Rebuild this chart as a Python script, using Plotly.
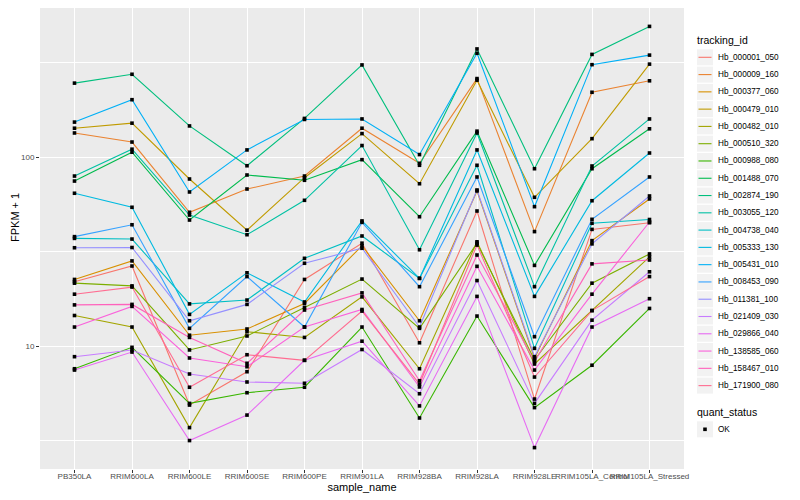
import plotly.graph_objects as go

samples = ["PB350LA", "RRIM600LA", "RRIM600LE", "RRIM600SE", "RRIM600PE", "RRIM901LA",
           "RRIM928BA", "RRIM928LA", "RRIM928LE", "RRIM105LA_Control", "RRIM105LA_Stressed"]

hb_000001_050 = [21.9, 26.5, 4.87, 7.31, 22.5, 35.0, 10.4, 51.8, 5.24, 41.4, 44.9]
hb_000009_160 = [134, 120, 51.0, 67.7, 79.3, 142, 92.6, 260, 40.3, 220, 253]
hb_000377_060 = [22.5, 28.2, 11.4, 12.3, 16.8, 33.9, 13.6, 66.1, 8.61, 36.1, 60.0]
hb_000479_010 = [142, 151, 76.5, 41.0, 77.7, 133, 72.2, 255, 61.2, 125, 310]
hb_000482_010 = [14.5, 12.6, 3.70, 11.9, 11.1, 18.2, 7.58, 35.6, 8.03, 15.4, 29.6]
hb_000510_320 = [21.5, 20.8, 9.53, 11.3, 16.0, 22.6, 12.4, 35.0, 8.43, 21.5, 30.7]
hb_000988_080 = [7.58, 9.84, 4.97, 5.66, 6.05, 12.6, 4.16, 14.4, 4.72, 7.91, 15.8]
hb_001488_070 = [74.6, 106, 46.4, 80.3, 75.3, 96.8, 48.3, 137, 26.7, 86.7, 141]
hb_002874_190 = [246, 274, 146, 89.9, 160, 307, 90.4, 373, 86.7, 349, 491]
hb_003055_120 = [79.3, 110, 49.3, 38.8, 59.0, 115, 32.3, 134, 20.6, 89.6, 159]
hb_004738_040 = [37.1, 36.8, 16.7, 17.5, 29.1, 38.2, 22.8, 90.4, 9.72, 44.6, 46.7]
hb_005333_130 = [64.3, 54.2, 14.7, 24.4, 17.1, 45.9, 22.8, 109, 18.3, 58.7, 105]
hb_005431_010 = [153, 201, 65.3, 109, 158, 159, 103, 354, 54.6, 308, 346]
hb_008453_090 = [37.9, 43.8, 12.4, 23.3, 12.6, 45.1, 20.6, 78.4, 11.2, 46.8, 78.4]
hb_011381_100 = [33.1, 33.2, 13.6, 16.6, 27.4, 32.9, 12.6, 66.9, 8.78, 34.7, 62.2]
hb_021409_030 = [8.78, 9.53, 7.11, 6.45, 6.35, 9.58, 5.59, 22.2, 4.97, 13.7, 24.7]
hb_029866_040 = [7.46, 9.29, 3.16, 4.31, 8.40, 10.6, 4.82, 18.3, 2.90, 12.6, 17.8]
hb_138585_060 = [12.6, 16.2, 8.64, 7.77, 12.6, 15.6, 6.07, 26.4, 7.46, 18.8, 45.3]
hb_158467_010 = [16.5, 16.6, 11.1, 8.10, 15.5, 19.1, 6.55, 30.3, 8.26, 27.2, 28.5]
hb_171900_080 = [18.8, 20.5, 6.05, 8.99, 8.40, 15.3, 6.29, 34.2, 6.85, 15.4, 23.3]

tracking_ids = ["Hb_000001_050", "Hb_000009_160", "Hb_000377_060", "Hb_000479_010", "Hb_000482_010",
                "Hb_000510_320", "Hb_000988_080", "Hb_001488_070", "Hb_002874_190", "Hb_003055_120",
                "Hb_004738_040", "Hb_005333_130", "Hb_005431_010", "Hb_008453_090", "Hb_011381_100",
                "Hb_021409_030", "Hb_029866_040", "Hb_138585_060", "Hb_158467_010", "Hb_171900_080"]
series_values = [hb_000001_050, hb_000009_160, hb_000377_060, hb_000479_010, hb_000482_010,
                 hb_000510_320, hb_000988_080, hb_001488_070, hb_002874_190, hb_003055_120,
                 hb_004738_040, hb_005333_130, hb_005431_010, hb_008453_090, hb_011381_100,
                 hb_021409_030, hb_029866_040, hb_138585_060, hb_158467_010, hb_171900_080]
colors = ["#F8766D", "#EA8331", "#D89000", "#C09B00", "#A3A500", "#7CAE00", "#39B600", "#00BB4E",
          "#00BF7D", "#00C1A3", "#00BFC4", "#00BAE0", "#00B0F6", "#35A2FF", "#9590FF", "#C77CFF",
          "#E76BF3", "#FA62DB", "#FF62BC", "#FF6C91"]
quant_status = ["OK"]

FONT = "Liberation Sans, Arial, Helvetica, sans-serif"
OFF = 8                      # browser body margin around the plot div
W, H = 800 - OFF, 500 - OFF  # figure size
L, R, T, B = 32, 116, 0, 31  # margins in figure pixels
PW, PH = W - L - R, H - T - B


def px_x(page_x):
    return (page_x - OFF - L) / PW


def px_y(page_y):
    return (H - B - (page_y - OFF)) / PH


fig = go.Figure()
for tid, vals, col in zip(tracking_ids, series_values, colors):
    fig.add_trace(go.Scatter(x=samples, y=vals, mode="lines", name=tid, showlegend=False,
                             line=dict(color=col, width=1.1)))

all_x, all_y = [], []
for vals in series_values:
    all_x += samples
    all_y += vals
fig.add_trace(go.Scatter(x=all_x, y=all_y, mode="markers", name=quant_status[0], showlegend=False,
                         marker=dict(color="black", size=3.6, symbol="square")))

shapes = []
annotations = [
    dict(text="FPKM + 1", textangle=-90, x=px_x(15), xref="paper", y=px_y(218), yref="paper",
         xanchor="center", yanchor="middle", showarrow=False, font=dict(size=11)),
]

# legend: tracking_id
KEY_X0, KEY_X1, LABEL_X = 697, 713, 716
annotations.append(dict(text="tracking_id", x=px_x(695), y=px_y(40.5), xref="paper", yref="paper",
                        xanchor="left", yanchor="middle", showarrow=False, font=dict(size=10.5)))
for i, (tid, col) in enumerate(zip(tracking_ids, colors)):
    cy = 57.3 + 17.28 * i
    shapes.append(dict(type="rect", xref="paper", yref="paper", x0=px_x(KEY_X0), x1=px_x(KEY_X1),
                       y0=px_y(cy - 8.0), y1=px_y(cy + 8.0), fillcolor="#F2F2F2", line=dict(width=0),
                       layer="below"))
    shapes.append(dict(type="line", xref="paper", yref="paper", x0=px_x(KEY_X0 + 1.5),
                       x1=px_x(KEY_X1 - 1.5), y0=px_y(cy), y1=px_y(cy), line=dict(color=col, width=1.1)))
    annotations.append(dict(text=tid, x=px_x(LABEL_X), y=px_y(cy), xref="paper", yref="paper",
                            xanchor="left", yanchor="middle", showarrow=False, font=dict(size=8.2)))

# legend: quant_status
annotations.append(dict(text="quant_status", x=px_x(695), y=px_y(412.3), xref="paper", yref="paper",
                        xanchor="left", yanchor="middle", showarrow=False, font=dict(size=10.5)))
qy = 429.3
shapes.append(dict(type="rect", xref="paper", yref="paper", x0=px_x(KEY_X0), x1=px_x(KEY_X1),
                   y0=px_y(qy - 8.0), y1=px_y(qy + 8.0), fillcolor="#F2F2F2", line=dict(width=0),
                   layer="below"))
shapes.append(dict(type="rect", xref="paper", yref="paper", x0=px_x(703.2), x1=px_x(706.8),
                   y0=px_y(qy - 1.8), y1=px_y(qy + 1.8), fillcolor="black", line=dict(width=0)))
annotations.append(dict(text=quant_status[0], x=px_x(LABEL_X), y=px_y(qy), xref="paper", yref="paper",
                        xanchor="left", yanchor="middle", showarrow=False, font=dict(size=8.2)))

# y range so that the panel spans page y 8..469 with 100 at y=157 and 10 at y=346
y_top_log = 2 + (157 - (OFF + T)) / 189.0
y_bot_log = 2 - (469 - 157) / 189.0

fig.update_layout(
    width=W, height=H,
    margin=dict(l=L, r=R, t=T, b=B, autoexpand=False),
    paper_bgcolor="white", plot_bgcolor="#EBEBEB",
    font=dict(family=FONT, color="black"),
    showlegend=False,
    xaxis=dict(type="category", range=[-0.6, 10.6], showgrid=True, gridcolor="white", gridwidth=1.1,
               zeroline=False, showline=False, ticks="outside", ticklen=3, tickcolor="#333333",
               tickangle=0, tickfont=dict(size=8, color="#4D4D4D"), ticklabelstandoff=-4,
               title=dict(text="sample_name", font=dict(size=11), standoff=0)),
    yaxis=dict(type="log", range=[y_bot_log, y_top_log], tickvals=[10, 100], ticktext=["10", "100"],
               showgrid=True, gridcolor="white", gridwidth=1.1, zeroline=False, showline=False,
               ticks="outside", ticklen=3, tickcolor="#333333",
               tickfont=dict(size=8, color="#4D4D4D"),
               minor=dict(tickvals=[3.1623, 31.623, 316.23], showgrid=True, gridcolor="white",
                          gridwidth=0.5, ticks="")),
    shapes=shapes,
    annotations=annotations,
)

fig.write_html("out.html")
